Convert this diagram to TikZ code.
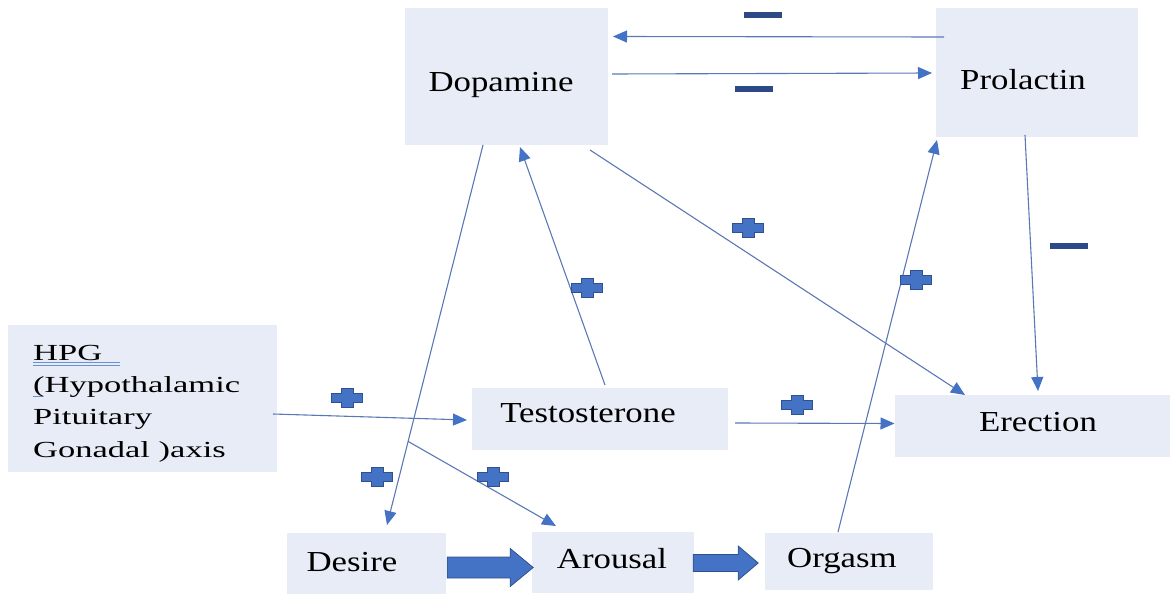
\documentclass[tikz,border=0pt]{standalone}
\usepackage{fontspec}
\setmainfont{Liberation Serif}[FakeStretch=1.2]
\newfontfamily\hpgfont{Liberation Serif}[FakeStretch=1.5]
\usetikzlibrary{arrows.meta,calc}
\definecolor{boxfill}{HTML}{E8ECF6}
\definecolor{linecol}{HTML}{5A78B4}
\definecolor{headcol}{HTML}{4472C4}
\definecolor{minuscol}{HTML}{2E4A86}
\definecolor{plusedge}{HTML}{2F528F}
\definecolor{ulcol}{HTML}{6A90D4}
\begin{document}
\begin{tikzpicture}[x=1pt,y=-1pt,
  box/.style={fill=boxfill,draw=none,inner sep=0pt},
  lbl/.style={font=\fontsize{29}{34}\selectfont,inner sep=0pt,anchor=base},
  hpglbl/.style={font=\hpgfont\fontsize{23}{32}\selectfont,inner sep=0pt,anchor=base west},
  link/.style={draw=linecol,line width=1.1pt,-{Triangle[length=14pt,width=12pt,color=headcol]}},
  fatarrow/.style={fill=headcol,draw=plusedge,line width=0.8pt,line join=miter},
  minusbar/.style={fill=minuscol,draw=none,inner sep=0pt,minimum width=38pt,minimum height=5.5pt},
  plussign/.pic={
    \filldraw[fill=headcol,draw=plusedge,line width=0.9pt]
      (-15.5,-4.75) -- (-6,-4.75) -- (-6,-9.5) -- (6,-9.5) -- (6,-4.75) -- (15.5,-4.75)
      -- (15.5,4.75) -- (6,4.75) -- (6,9.5) -- (-6,9.5) -- (-6,4.75) -- (-15.5,4.75) -- cycle;
  }]
\useasboundingbox (0,0) rectangle (1171,594);

% boxes
\node[box,minimum width=203pt,minimum height=137pt] (dop) at (506.5,76.5) {};
\node[box,minimum width=202pt,minimum height=129pt] (pro) at (1037,72.5) {};
\node[box,minimum width=269pt,minimum height=147pt] (hpg) at (142.5,398.5) {};
\node[box,minimum width=256pt,minimum height=62pt] (tes) at (600,419) {};
\node[box,minimum width=275pt,minimum height=62pt] (ere) at (1032.5,426) {};
\node[box,minimum width=159pt,minimum height=61pt] (des) at (366.5,563.5) {};
\node[box,minimum width=162pt,minimum height=61pt] (aro) at (613,562.5) {};
\node[box,minimum width=168pt,minimum height=57pt] (org) at (849,561.5) {};

% labels
\node[lbl] (dopT) at (501,92) {Dopamine};
\node[lbl] (proT) at (1023,90) {Prolactin};
\node[lbl] (tesT) at (588,422) {Testosterone};
\node[lbl] (ereT) at (1038,431) {Erection};
\node[lbl] (desT) at (352,571) {Desire};
\node[lbl] (aroT) at (612,568) {Arousal};
\node[lbl] (orgT) at (842,567) {Orgasm};

\node[hpglbl] (hpg1) at (33,360) {HPG};
\node[hpglbl] (hpg2) at (33,392) {(Hypothalamic};
\node[hpglbl] (hpg3) at (33,424) {Pituitary};
\node[hpglbl] (hpg4) at (33,457) {Gonadal )axis};

% proofing underlines
\draw[ulcol,line width=0.8pt] ($(hpg1.base west)+(0,2.5)$) -- ++(87,0);
\draw[ulcol,line width=0.8pt] ($(hpg1.base west)+(0,5.5)$) -- ++(87,0);
\draw[ulcol,line width=0.8pt] ($(hpg2.base west)+(0,4)$) -- ++(9,0);

% connectors
\draw[link] ($(pro)+(-93,-35.5)$) -- ($(dop)+(106.5,-40)$);
\draw[link] ($(dop)+(105.5,-2.5)$) -- ($(pro)+(-105,0.5)$);
\draw[link] ($(dop)+(-23.5,68.5)$) -- coordinate[pos=0.78] (branch) ($(des)+(20.5,-38.5)$);
\draw[link] ($(tes)+(5,-34)$) -- ($(dop)+(13.5,70.5)$);
\draw[link] ($(dop)+(83.5,73.5)$) -- ($(ere)+(-67.5,-31)$);
\draw[link] ($(pro)+(-12,62.5)$) -- ($(ere)+(5.5,-35)$);
\draw[link] ($(org)+(-11,-29.5)$) -- ($(pro)+(-100,67.5)$);
\draw[link] ($(hpg)+(130.5,15.5)$) -- ($(tes)+(-133,1)$);
\draw[link] ($(tes)+(135,4)$) -- ($(ere)+(-138,-2.5)$);
\draw[link] (branch) -- ($(aro)+(-57,-36.5)$);

% block arrows along the sequence
\filldraw[fatarrow] ($(des.east)+(1,-6.5)$) -- ++(63,0) -- ++(0,-8.5) -- ++(23,19)
  -- ++(-23,19) -- ++(0,-8.5) -- ++(-63,0) -- cycle;
\filldraw[fatarrow] ($(aro.east)+(-1,-8)$) -- ++(45,0) -- ++(0,-8.5) -- ++(20,17)
  -- ++(-20,17) -- ++(0,-8.5) -- ++(-45,0) -- cycle;

% inhibitory marks
\node[minusbar] (m1) at (762.5,15) {};
\node[minusbar] (m2) at (754,89) {};
\node[minusbar] (m3) at (1069,246) {};

% stimulatory marks
\pic at (748,228) {plussign};
\pic at (587,288) {plussign};
\pic at (347,398) {plussign};
\pic at (377,477) {plussign};
\pic at (493,477) {plussign};
\pic at (797,405) {plussign};
\pic at (916,280) {plussign};
\end{tikzpicture}
\end{document}
